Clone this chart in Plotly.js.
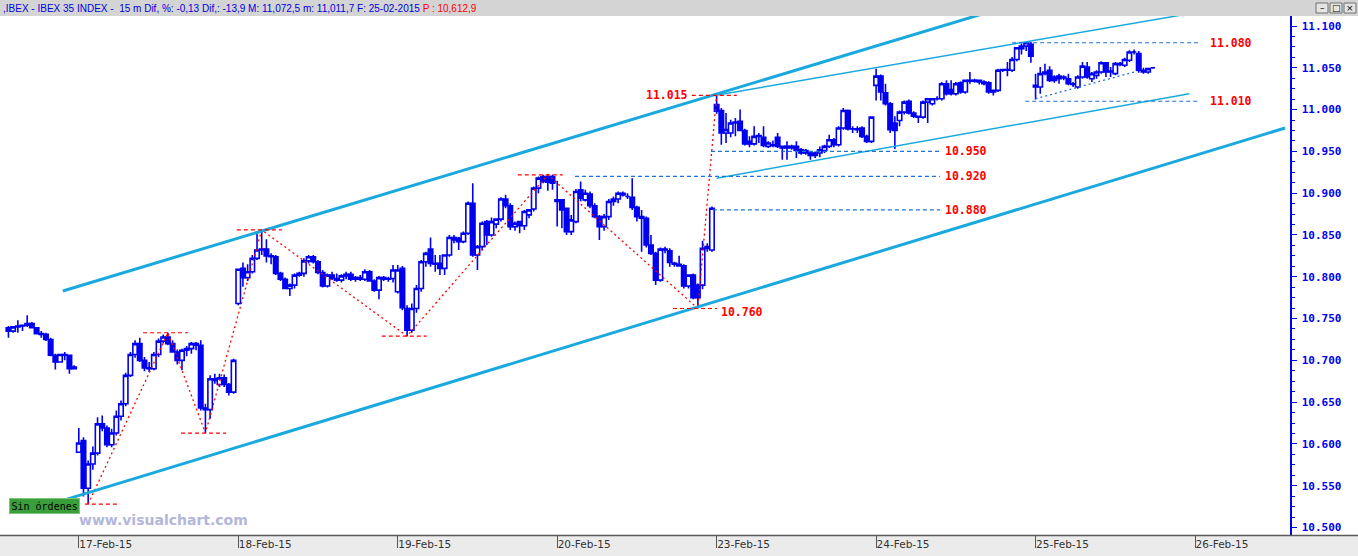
<!DOCTYPE html>
<html>
<head>
<meta charset="utf-8">
<script src="https://cdn.plot.ly/plotly-3.0.1.min.js"></script>
<style>
html,body{margin:0;padding:0;background:#ffffff;}
#chart{width:1358px;height:556px;}
</style>
</head>
<body>
<div id="chart"></div>
<script>
// ---------------- DATA ----------------
// 15-minute bars of the IBEX 35 (points). Each bar: [open, high, low, close]
const BARS_PER_DAY = 34;

const feb16 = [
 [10739,10741,10727,10735],[10735,10741,10733,10740],[10740,10748,10733,10741],[10741,10743,10735,10742],
 [10742,10754,10740,10744],[10744,10746,10738,10739],[10739,10740,10731,10732],[10732,10735,10727,10731],
 [10731,10733,10723,10725],[10725,10727,10705,10706],[10706,10708,10689,10698],[10698,10708,10697,10707],
 [10707,10710,10700,10706],[10706,10707,10684,10690],[10690,10694,10689,10692]
];
const feb17 = [
 [10590,10619,10589,10601],[10604,10608,10537,10547],[10547,10580,10528,10576],[10576,10597,10569,10589],
 [10589,10632,10586,10624],[10624,10634,10615,10619],[10619,10622,10596,10599],[10599,10618,10596,10613],
 [10613,10640,10610,10633],[10633,10652,10628,10648],[10648,10685,10645,10682],[10682,10710,10680,10707],
 [10707,10724,10703,10720],[10720,10727,10698,10700],[10700,10704,10687,10691],[10691,10698,10686,10690],
 [10690,10710,10688,10707],[10707,10726,10704,10723],[10723,10731,10720,10728],[10728,10733,10718,10720],
 [10720,10724,10709,10710],[10710,10713,10695,10700],[10700,10714,10688,10712],[10712,10717,10705,10714],
 [10714,10722,10708,10720],[10720,10722,10712,10718],[10718,10724,10640,10643],[10643,10648,10613,10641],
 [10641,10682,10630,10678],[10678,10684,10672,10676],[10671,10684,10668,10679],[10679,10683,10668,10671],
 [10671,10673,10658,10662],[10662,10702,10660,10700]
];
const feb18 = [
 [10768,10810,10766,10809],[10810,10817,10788,10799],[10799,10815,10795,10806],[10806,10826,10804,10822],
 [10822,10852,10820,10832],[10832,10856,10826,10833],[10833,10845,10817,10825],[10825,10828,10815,10824],
 [10824,10826,10802,10804],[10804,10806,10795,10797],[10797,10799,10785,10786],[10786,10792,10777,10790],
 [10790,10804,10786,10802],[10802,10806,10800,10804],[10804,10822,10800,10819],[10819,10826,10816,10824],
 [10824,10826,10816,10818],[10818,10820,10803,10805],[10805,10808,10787,10789],[10789,10804,10787,10802],
 [10802,10806,10796,10798],[10798,10804,10794,10796],[10796,10803,10793,10801],[10801,10806,10797,10803],
 [10803,10806,10795,10797],[10797,10801,10794,10799],[10799,10802,10795,10797],[10797,10809,10795,10806],
 [10806,10808,10794,10795],[10795,10797,10782,10784],[10784,10801,10773,10799],[10799,10801,10795,10797],
 [10797,10800,10794,10798],[10798,10814,10793,10808]
];
const feb19 = [
 [10782,10814,10780,10808],[10810,10813,10760,10763],[10762,10766,10729,10736],[10736,10768,10733,10762],
 [10762,10790,10757,10786],[10786,10820,10782,10818],[10818,10830,10812,10828],[10833,10847,10812,10816],
 [10816,10826,10806,10815],[10816,10826,10802,10810],[10810,10827,10802,10826],[10826,10850,10824,10847],
 [10847,10850,10840,10844],[10846,10848,10832,10842],[10842,10854,10840,10852],[10852,10890,10850,10888],
 [10888,10912,10824,10826],[10826,10838,10808,10836],[10836,10866,10832,10864],[10866,10868,10838,10850],
 [10850,10871,10848,10866],[10863,10870,10858,10869],[10869,10895,10866,10893],[10893,10898,10882,10885],
 [10885,10888,10856,10860],[10860,10866,10855,10864],[10866,10867,10852,10861],[10861,10880,10856,10878],
 [10874,10881,10870,10880],[10881,10908,10878,10906],[10906,10920,10900,10918],[10920,10922,10912,10914],
 [10920,10922,10903,10913],[10920,10922,10904,10912]
];
const feb20 = [
 [10890,10915,10860,10892],[10892,10893,10858,10880],[10882,10882,10850,10854],[10854,10874,10850,10868],
 [10866,10905,10864,10902],[10904,10914,10890,10894],[10892,10904,10890,10900],[10899,10902,10882,10885],
 [10885,10888,10870,10872],[10872,10874,10844,10860],[10860,10875,10855,10872],[10872,10893,10868,10890],
 [10890,10896,10885,10893],[10893,10902,10888,10900],[10898,10902,10896,10900],[10896,10900,10893,10896],
 [10895,10918,10880,10883],[10883,10885,10866,10872],[10870,10880,10830,10872],[10870,10872,10835,10838],
 [10838,10850,10826,10828],[10828,10830,10790,10796],[10796,10835,10794,10833],[10832,10836,10828,10833],
 [10831,10834,10812,10817],[10815,10818,10812,10816],[10815,10825,10812,10813],[10813,10815,10786,10789],
 [10789,10803,10786,10802],[10802,10804,10773,10775],[10790,10792,10762,10775],[10790,10843,10785,10834],
 [10834,10840,10830,10836],[10832,10884,10830,10882]
];
const feb23 = [
 [11006,11017,10995,10998],[10999,11002,10958,10972],[10972,10996,10960,10976],[10972,10988,10967,10984],
 [10984,10990,10968,10985],[10986,11000,10974,10975],[10975,10977,10957,10959],[10959,10968,10955,10962],
 [10959,10980,10957,10968],[10968,10972,10960,10969],[10967,10980,10955,10957],[10956,10962,10954,10960],
 [10957,10963,10955,10958],[10967,10972,10954,10956],[10956,10957,10940,10954],[10954,10962,10940,10956],
 [10954,10958,10952,10956],[10956,10962,10942,10951],[10952,10954,10946,10948],[10951,10953,10946,10948],
 [10948,10950,10940,10945],[10945,10950,10942,10948],[10948,10956,10943,10952],[10951,10958,10948,10956],
 [10956,10970,10954,10964],[10964,10966,10955,10958],[10958,10980,10956,10978],[10978,11002,10976,10999],
 [10999,11000,10975,10977],[10977,10980,10972,10977],[10977,10980,10972,10976],[10978,10980,10966,10968],
 [10968,10970,10960,10962],[10962,10992,10960,10991]
];
const feb24 = [
 [11029,11049,11011,11040],[11040,11042,11011,11021],[11020,11031,11005,11007],[11007,11009,10972,10976],
 [10984,10992,10953,10975],[10987,10999,10980,10997],[10997,11011,10994,11009],[11010,11012,10994,10996],
 [10996,10998,10990,10992],[10991,10993,10984,10992],[10991,11011,10989,11009],[11009,11014,10984,11013],
 [11007,11014,11005,11013],[11013,11016,11011,11013],[11013,11033,11011,11031],[11031,11035,11017,11019],
 [11024,11035,11017,11019],[11019,11033,11017,11031],[11032,11034,11019,11021],[11021,11036,11019,11035],
 [11035,11045,11031,11034],[11034,11037,11032,11035],[11033,11036,11030,11035],[11033,11035,11029,11031],
 [11032,11034,11019,11021],[11021,11024,11017,11023],[11023,11049,11021,11047],[11047,11049,11045,11048],
 [11047,11057,11040,11048],[11047,11063,11045,11060],[11060,11075,11058,11074],[11076,11079,11066,11073],
 [11076,11081,11070,11080],[11078,11081,11056,11064]
];
const feb25 = [
 [11029,11043,11012,11027],[11027,11051,11019,11043],[11043,11055,11041,11045],[11047,11052,11033,11035],
 [11039,11041,11032,11035],[11037,11043,11031,11040],[11038,11041,11035,11039],[11037,11043,11029,11031],
 [11031,11033,11027,11030],[11027,11041,11025,11039],[11039,11057,11037,11052],[11051,11057,11037,11039],
 [11037,11045,11033,11043],[11041,11047,11037,11045],[11045,11058,11043,11056],[11056,11057,11039,11045],
 [11046,11051,11039,11045],[11043,11057,11041,11055],[11054,11057,11052,11055],[11053,11062,11051,11060],
 [11059,11071,11057,11069],[11069,11072,11066,11069],[11067,11070,11044,11047],[11045,11050,11043,11047],
 [11045,11050,11043,11049],[11050,11051,11049,11050]
];

const sessionBars = [feb16, feb17, feb18, feb19, feb20, feb23, feb24, feb25];
const sessionFirstSlot = [19, 0, 0, 0, 0, 0, 0, 0];   // 16-Feb starts off-screen
const dayTickLabels = ['17-Feb-15','18-Feb-15','19-Feb-15','20-Feb-15','23-Feb-15','24-Feb-15','25-Feb-15','26-Feb-15'];

// Zig-zag pivots (bar slot, which extreme)
const pivotSlots = [36, 53, 61, 73, 104, 134, 166, 170];
const pivotSide  = ['low','high','low','high','low','high','low','high'];
const pivotLineFrom = [35.3, 47.7, 55.8, 67.7, 98.6, 127.6, 160.7, 164.7];
const pivotLineTo   = [42.4, 57.3, 65.4, 77.3, 108.2, 137.2, 170.1, 174.3];
const pivotLabelValues = [11015, 10760];

// Horizontal reference levels (blue dashed)
const levelValues = [10950, 10920, 10880, 11080, 11010];
const levelFrom   = [168.8, 139.8, 169.2, 233.0, 235.8];
const levelTo     = [217.6, 217.6, 217.6, 273.0, 273.0];

// Trend lines: [[slot, points], [slot, points]]
const channelUpper = [[30.6, 10783], [240.0, 11137]];
const channelLower = [[31.5, 10534], [291.2, 10978]];
const wedgeUpper   = [[169.6, 11017], [270.0, 11114]];
const wedgeLower   = [[170.0, 10918], [270.8, 11019]];
const supportFeb25 = [[238.0, 11013], [259.7, 11046]];

const headerText = ',IBEX - IBEX 35 INDEX -  15 m Dif, %: -0,13 Dif,: -13,9 M: 11,072,5 m: 11,011,7 F: 25-02-2015 ';
const headerPrice = 'P : 10,612,9';

// ---------------- BUILD ----------------
const xs = [], open = [], high = [], low = [], close = [];
sessionBars.forEach((bars, s) => {
  bars.forEach((b, i) => {
    xs.push(s * BARS_PER_DAY + sessionFirstSlot[s] + i);
    open.push(b[0]); high.push(b[1]); low.push(b[2]); close.push(b[3]);
  });
});

const BLUE = '#0000f0';
const RED = '#ff0000';
const CYAN = '#1aa9de';
const LEVEL_BLUE = '#1f72d6';

const fmtPts = v => { const s = String(Math.round(v)); return s.slice(0, s.length - 3) + '.' + s.slice(-3); };

const pivotY = pivotSlots.map((slot, j) => {
  const idx = xs.indexOf(slot);
  return pivotSide[j] === 'high' ? high[idx] : low[idx];
});

const candle = {
  type: 'candlestick',
  x: xs, open: open, high: high, low: low, close: close,
  increasing: { line: { color: BLUE, width: 1.6 }, fillcolor: '#ffffff' },
  decreasing: { line: { color: BLUE, width: 1.6 }, fillcolor: BLUE },
  whiskerwidth: 0,
  hoverinfo: 'skip'
};

const zigzag = {
  type: 'scatter', mode: 'lines',
  x: pivotSlots, y: pivotY,
  line: { color: RED, width: 1.3, dash: '2px,3px' },
  hoverinfo: 'skip'
};

const shapes = [];
const PH = 519, PW = 1290;
shapes.push({ type: 'rect', xref: 'paper', yref: 'paper', x0: 0, x1: 1358 / PW, y0: 1, y1: 1 + 16 / PH,
  fillcolor: '#d4d4d4', line: { width: 0 }, layer: 'below' });
shapes.push({ type: 'rect', xref: 'paper', yref: 'paper', x0: 0, x1: 1358 / PW, y0: -21 / PH, y1: 0,
  fillcolor: '#ebebeb', line: { width: 0 }, layer: 'below' });
shapes.push({ type: 'line', xref: 'paper', yref: 'paper', x0: 0, x1: 1358 / PW, y0: -0.5 / PH, y1: -0.5 / PH,
  line: { color: '#5a5a5a', width: 1.5 }, layer: 'above' });
[[1316, 1328], [1330, 1342], [1344, 1356]].forEach(b => {
  shapes.push({ type: 'rect', xref: 'paper', yref: 'paper', x0: b[0] / PW, x1: b[1] / PW,
    y0: (535 - 13) / PH, y1: (535 - 3) / PH,
    fillcolor: '#e4e4e4', line: { color: '#707070', width: 1 }, layer: 'above' });
});

function lineShape(p, color, width, dash) {
  return { type: 'line', xref: 'x', yref: 'y', x0: p[0][0], y0: p[0][1], x1: p[1][0], y1: p[1][1],
    line: { color: color, width: width, dash: dash || 'solid' }, layer: 'above' };
}
shapes.push(lineShape(channelUpper, CYAN, 3));
shapes.push(lineShape(channelLower, CYAN, 3));
shapes.push(lineShape(wedgeUpper, CYAN, 1.5));
shapes.push(lineShape(wedgeLower, CYAN, 1.5));
shapes.push(lineShape(supportFeb25, LEVEL_BLUE, 1.3, '2px,3px'));

levelValues.forEach((v, j) => {
  shapes.push(lineShape([[levelFrom[j], v], [levelTo[j], v]], LEVEL_BLUE, 1.2, '4px,3px'));
});
pivotSlots.forEach((s, j) => {
  shapes.push(lineShape([[pivotLineFrom[j], pivotY[j]], [pivotLineTo[j], pivotY[j]]], RED, 1.2, '4px,3px'));
});

const labelFont = { family: 'DejaVu Sans Mono', size: 11.5, color: RED, weight: 'bold' };
const annotations = [];
const levelLabelX = [218.3, 218.3, 218.3, 274.7, 274.7];
levelValues.forEach((v, j) => {
  annotations.push({ xref: 'x', yref: 'y', x: levelLabelX[j], y: v, xanchor: 'left', yanchor: 'middle',
    text: fmtPts(v), showarrow: false, font: labelFont });
});
annotations.push({ xref: 'x', yref: 'y', x: 164.3, y: pivotLabelValues[0], yshift: 2, xanchor: 'right', yanchor: 'middle',
  text: fmtPts(pivotLabelValues[0]), showarrow: false, font: labelFont });
annotations.push({ xref: 'x', yref: 'y', x: 170.6, y: pivotLabelValues[1], yshift: -2, xanchor: 'left', yanchor: 'middle',
  text: fmtPts(pivotLabelValues[1]), showarrow: false, font: labelFont });

annotations.push({ xref: 'paper', yref: 'paper', x: 1 / PW, y: 1 + 8 / PH, xanchor: 'left', yanchor: 'middle',
  text: headerText + '<span style="color:#ff0000">' + headerPrice + '</span>', showarrow: false,
  font: { family: 'Liberation Sans', size: 10, color: '#0000e0' } });
[['\u2013', 1322], ['\u25a1', 1336], ['\u00d7', 1350]].forEach(g => {
  annotations.push({ xref: 'paper', yref: 'paper', x: g[1] / PW, y: 1 + 8 / PH, xanchor: 'center', yanchor: 'middle',
    text: g[0], showarrow: false, font: { family: 'DejaVu Sans', size: 9, color: '#000000' } });
});
annotations.push({ xref: 'paper', yref: 'paper', x: 9 / PW, y: (535 - 505.5) / PH, xanchor: 'left', yanchor: 'middle',
  text: 'Sin órdenes', showarrow: false, bgcolor: '#3a9e3a', bordercolor: '#7cc67c', borderwidth: 1, borderpad: 1.5,
  font: { family: 'DejaVu Sans Mono', size: 10, color: '#000000' } });
annotations.push({ xref: 'paper', yref: 'paper', x: 77 / PW, y: (535 - 520) / PH, xanchor: 'left', yanchor: 'middle',
  text: 'www.visualchart.com', showarrow: false,
  font: { family: 'DejaVu Sans', size: 14, color: '#b3b6da', weight: 'bold' } });

const layout = {
  width: 1358, height: 556,
  margin: { l: 0, r: 68, t: 16, b: 21, pad: 0 },
  paper_bgcolor: '#ffffff', plot_bgcolor: '#ffffff',
  separators: ',.',
  showlegend: false,
  boxgap: 0.05, boxgroupgap: 0,
  xaxis: {
    range: [17.2, 292.25],
    tickmode: 'array',
    tickvals: dayTickLabels.map((t, j) => (j + 1) * BARS_PER_DAY),
    ticktext: dayTickLabels,
    ticks: 'outside', ticklen: 12, tickwidth: 1, tickcolor: '#555555',
    ticklabelposition: 'outside right', ticklabelstandoff: -1,
    tickfont: { family: 'DejaVu Sans', size: 10.5, color: '#333333' },
    showgrid: false, zeroline: false, showline: false,
    rangeslider: { visible: false }, fixedrange: true
  },
  yaxis: {
    side: 'right',
    range: [10491, 11112],
    tick0: 10500, dtick: 50, tickformat: ',d',
    ticks: 'outside', ticklen: 5, tickwidth: 1, tickcolor: BLUE,
    minor: { tick0: 10500, dtick: 12.5, ticks: 'outside', ticklen: 3, tickcolor: BLUE, tickwidth: 1 },
    showline: true, linecolor: BLUE, linewidth: 1.5,
    tickfont: { family: 'DejaVu Sans Mono', size: 11, color: BLUE, weight: 'bold' },
    ticklabelstandoff: 3,
    showgrid: false, zeroline: false, fixedrange: true
  },
  shapes: shapes,
  annotations: annotations
};

Plotly.newPlot('chart', [candle, zigzag], layout, { staticPlot: true, displayModeBar: false });
</script>
</body>
</html>
